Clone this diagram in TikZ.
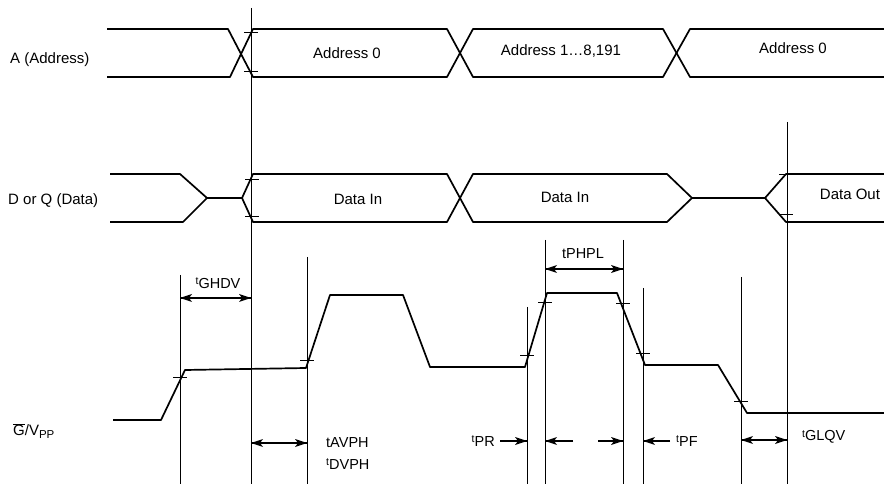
\documentclass[tikz,border=0pt]{standalone}
\usepackage{fontspec}
\setmainfont{Liberation Sans}
\newcommand{\ts}{\raisebox{0.45ex}{\fontsize{10.5}{12}\selectfont t}}
\begin{document}
\begin{tikzpicture}[x=1pt,y=-1pt,
  sig/.style={line width=1.7pt,line join=round},
  vline/.style={line width=0.9pt},
  tickmark/.style={line width=1pt},
  dimline/.style={line width=1.1pt},
  headR/.pic={\fill (0,0) -- (-12,-4) -- (-9,0) -- (-12,4) -- cycle;},
  headL/.pic={\fill (0,0) -- (12,-4) -- (9,0) -- (12,4) -- cycle;},
  lbl/.style={font=\fontsize{15}{17}\selectfont,inner sep=0pt},
  tlbl/.style={font=\fontsize{14.5}{17}\selectfont,inner sep=0pt}]
\useasboundingbox (0,0) rectangle (884,486);
% ---------- labels ----------
\node[lbl,anchor=west] (la) at (10,60) {A (Address)};
\node[lbl,anchor=west] (ld) at (8,201) {D or Q (Data)};
\node[lbl,anchor=west] (lg) at (13,431) {$\overline{\mbox{G}}$/V\raisebox{-0.35ex}{\fontsize{11.5}{13}\selectfont PP}};
% ---------- address row (top 29, bottom 77) ----------
\draw[sig] (107,29) -- (228,29) -- (253,77) -- (447,77) -- (473,29) -- (663,29) -- (690,77) -- (884,77);
\draw[sig] (107,77) -- (230,77) -- (253,29) -- (447,29) -- (473,77) -- (663,77) -- (690,29) -- (884,29);
\node[lbl] (a0) at (347,53) {Address 0};
\node[lbl] (a1) at (561,51) {Address 1\dots8,191};
\node[lbl] (a2) at (793,48) {Address 0};
% ---------- data row (top 174, bottom 222, mid 198) ----------
\draw[sig] (110,174) -- (180,174) -- (207,198) -- (242,198) -- (253,174) -- (447,174) -- (473,222) -- (667,222) -- (692,198) -- (765,198) -- (786,174) -- (884,174);
\draw[sig] (110,222) -- (183,222) -- (207,198);
\draw[sig] (242,198) -- (253,222) -- (447,222) -- (473,174) -- (667,174) -- (692,198);
\draw[sig] (765,198) -- (786,222) -- (884,222);
\node[lbl] (d1) at (358,199) {Data In};
\node[lbl] (d2) at (565,197) {Data In};
\node[lbl] (d3) at (850,194) {Data Out};
% ---------- G/VPP row ----------
\draw[sig] (113,420) -- (161,420) -- (185,370) -- (306,368) -- (330,295) -- (403,295) -- (430,367) -- (525,367) -- (547,293) -- (617,293) -- (645,365) -- (718,365) -- (747,413) -- (884,413);
% ---------- vertical reference lines ----------
\coordinate (v1t) at (180,275); \coordinate (v1b) at (180,484);
\coordinate (v2t) at (251,8);   \coordinate (v2b) at (251,484);
\coordinate (v3t) at (307,257); \coordinate (v3b) at (307,484);
\coordinate (v4t) at (527,307); \coordinate (v4b) at (527,484);
\coordinate (v5t) at (545,240); \coordinate (v5b) at (545,484);
\coordinate (v6t) at (623,240); \coordinate (v6b) at (623,484);
\coordinate (v7t) at (643,288); \coordinate (v7b) at (643,484);
\coordinate (v8t) at (741,277); \coordinate (v8b) at (741,484);
\coordinate (v9t) at (787,122); \coordinate (v9b) at (787,484);
\foreach \v in {v1,v2,v3,v4,v5,v6,v7,v8,v9} \draw[vline] (\v t) -- (\v b);
% ---------- tick marks ----------
\foreach \x/\y in {251/33,251/72,252/180,252/217,786/175,786/215,180/378,307/361,527/356,545/303,623/304,643/354,741/402}
  \draw[tickmark] (\x-7,\y) -- (\x+7,\y);
% ---------- timing dimensions ----------
\coordinate (g1) at (180,298); \coordinate (g2) at (251,298);
\draw[dimline] (g1) -- (g2);
\pic at (g1) {headL}; \pic at (g2) {headR};
\node[tlbl] (tghdv) at (218,283) {\ts GHDV};
\coordinate (av1) at (251,443); \coordinate (av2) at (307,443);
\draw[dimline] (av1) -- (av2);
\pic at (av1) {headL}; \pic at (av2) {headR};
\node[tlbl,anchor=west] (tavph) at (326,443) {tAVPH};
\node[tlbl,anchor=west] (tdvph) at (326,464) {\ts DVPH};
\coordinate (ph1) at (545,269); \coordinate (ph2) at (623,269);
\draw[dimline] (ph1) -- (ph2);
\pic at (ph1) {headL}; \pic at (ph2) {headR};
\node[tlbl] (tphpl) at (583,254) {tPHPL};
\coordinate (pr0) at (500,441); \coordinate (pr1) at (527,441);
\coordinate (pr2) at (545,441); \coordinate (pr3) at (573,441);
\draw[dimline] (pr0) -- (pr1); \pic at (pr1) {headR};
\draw[dimline] (pr3) -- (pr2); \pic at (pr2) {headL};
\node[tlbl,anchor=east] (tpr) at (495,441) {\ts PR};
\coordinate (pf0) at (598,441); \coordinate (pf1) at (623,441);
\coordinate (pf2) at (643,441); \coordinate (pf3) at (670,441);
\draw[dimline] (pf0) -- (pf1); \pic at (pf1) {headR};
\draw[dimline] (pf3) -- (pf2); \pic at (pf2) {headL};
\node[tlbl,anchor=west] (tpf) at (676,441) {\ts PF};
\coordinate (gl1) at (741,440); \coordinate (gl2) at (787,440);
\draw[dimline] (gl1) -- (gl2);
\pic at (gl1) {headL}; \pic at (gl2) {headR};
\node[tlbl,anchor=west] (tglqv) at (802,437) {\ts GLQV};
\end{tikzpicture}
\end{document}
